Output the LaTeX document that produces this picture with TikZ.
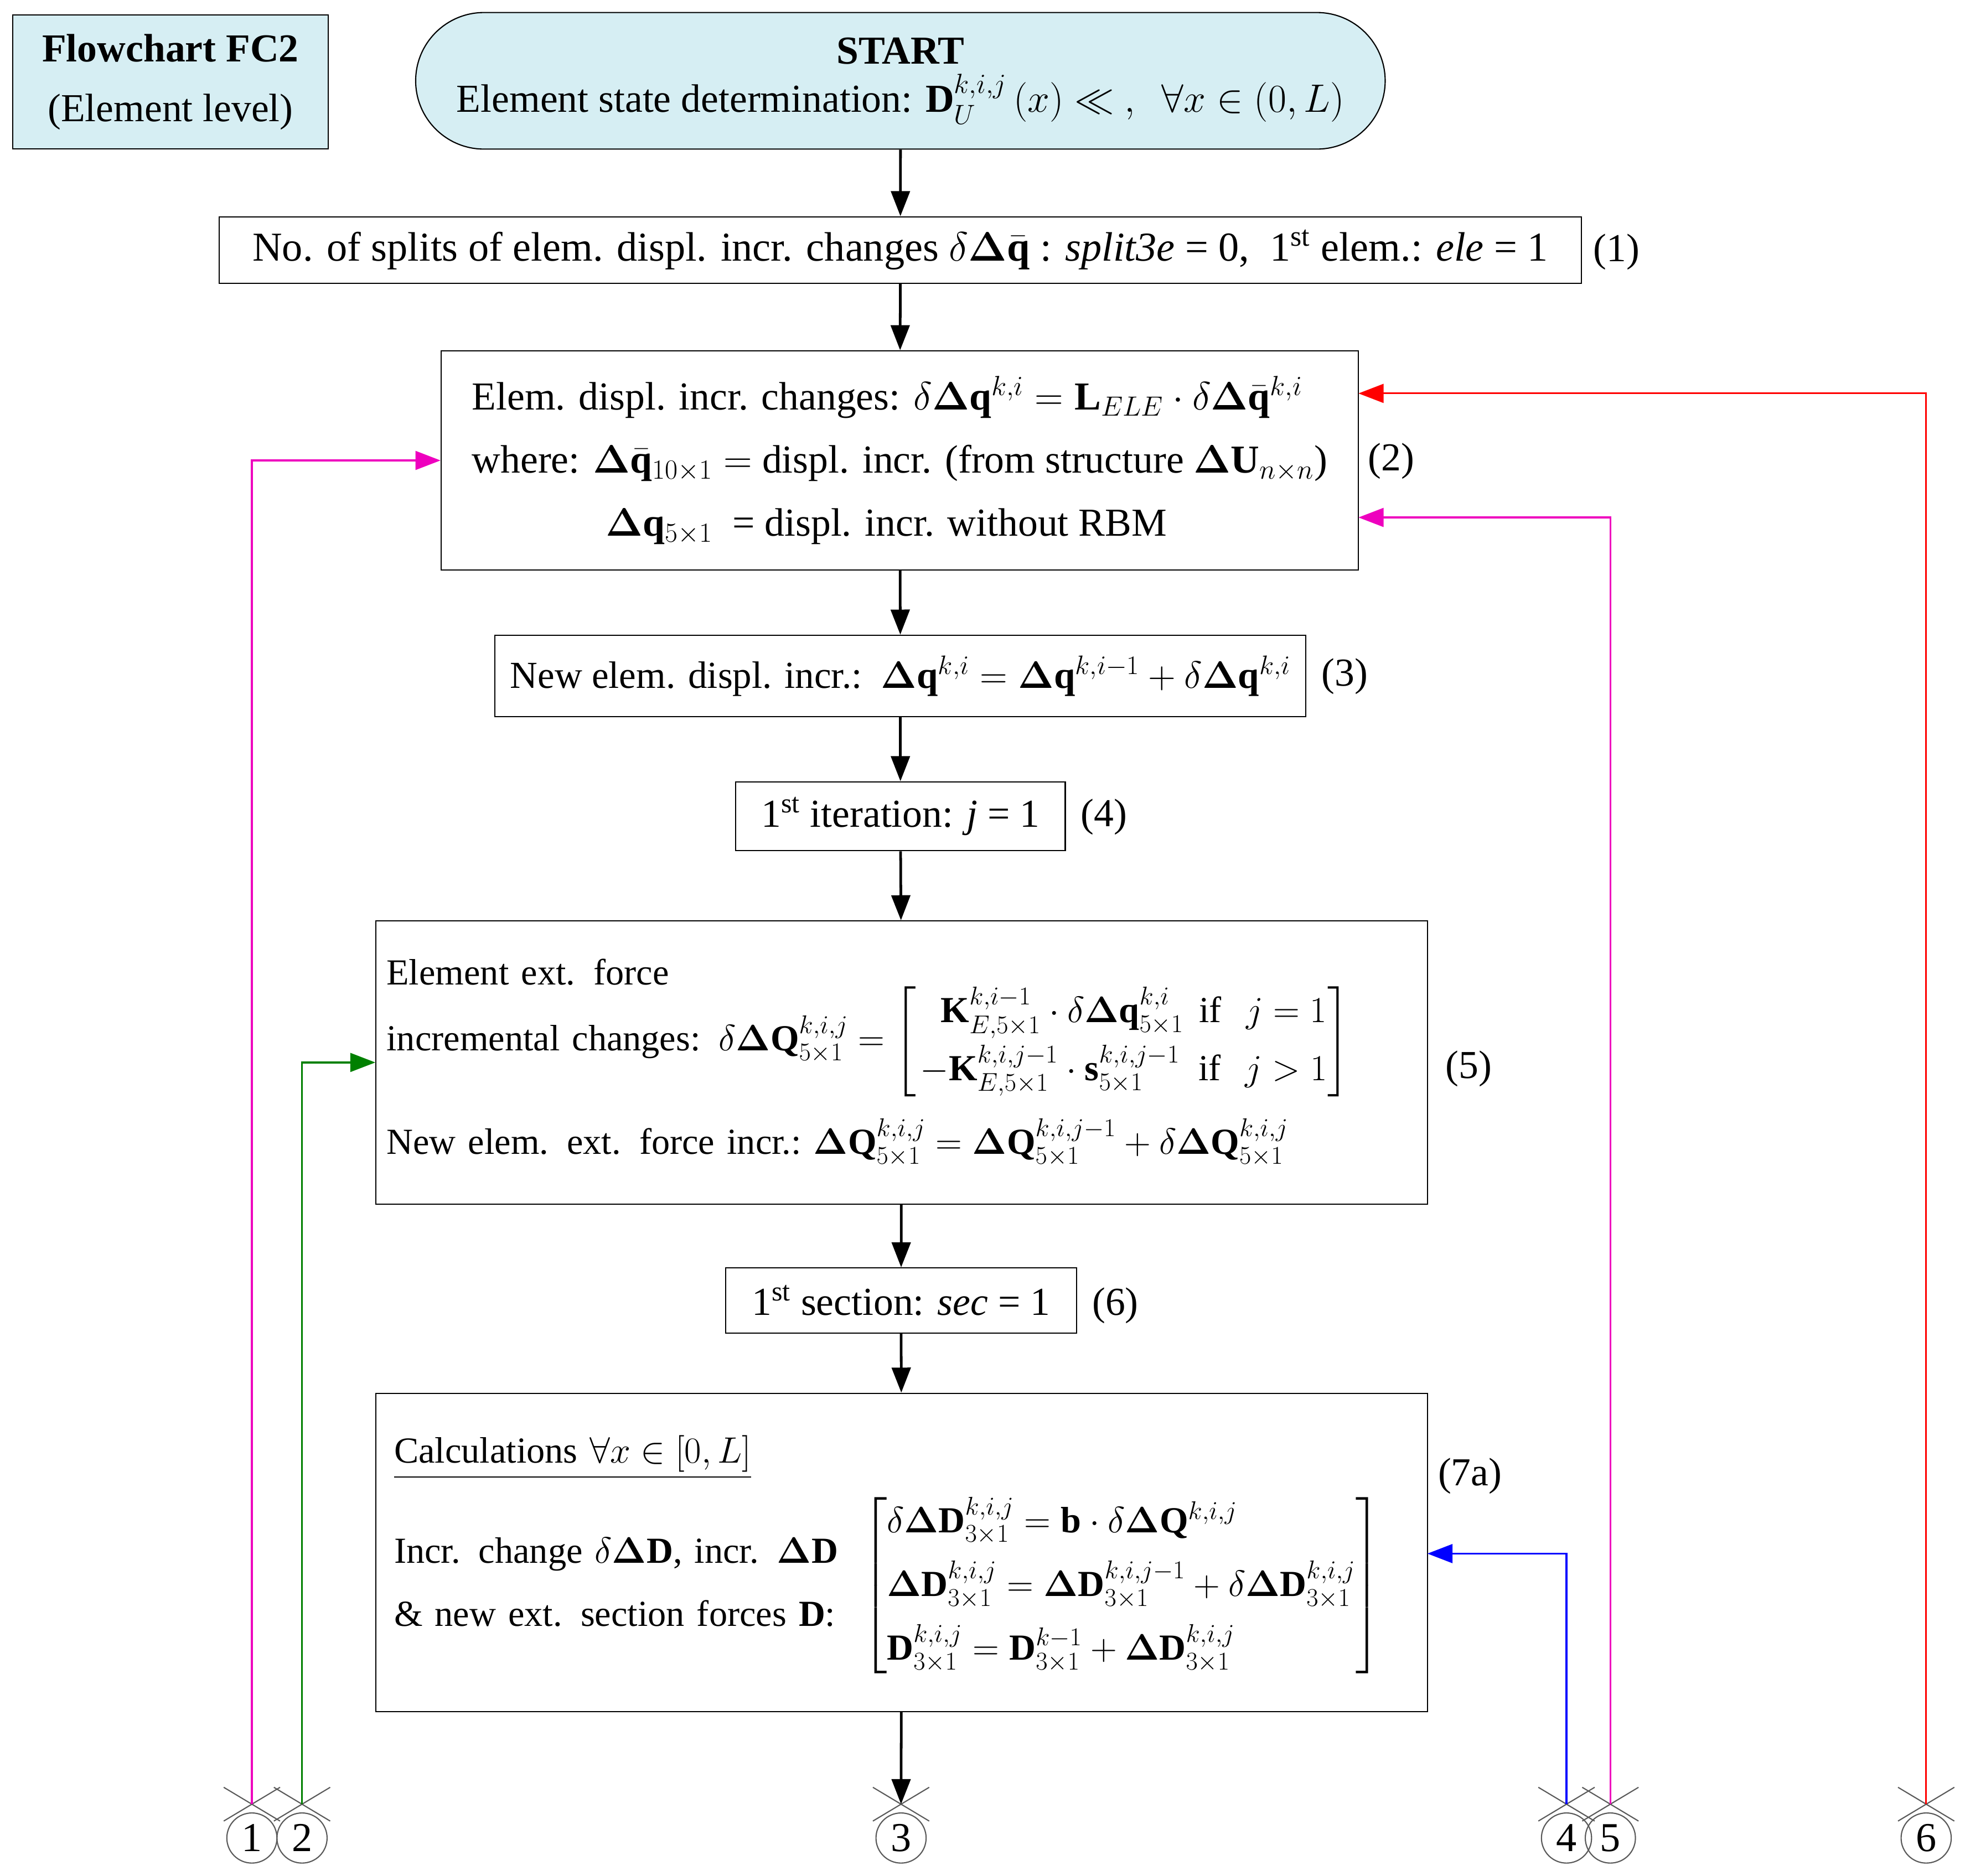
\RequirePackage{fix-cm}
\documentclass[tikz,border=0pt]{standalone}
\usepackage{amsmath}
\usepackage{amssymb}
\usepackage{fontspec}
\setmainfont{Liberation Serif}
\usetikzlibrary{arrows.meta,shapes.misc}
\definecolor{boxcyan}{RGB}{214,238,243}
\definecolor{lnpink}{RGB}{238,0,190}
\definecolor{lngreen}{RGB}{0,128,0}
\newcommand{\pxl}[1]{#1*0.03cm}
\newcommand{\ddq}{\delta\boldsymbol{\Delta}}
\tikzset{
  blk/.style={draw,line width=0.8pt,inner sep=4pt,font=\fontsize{27}{33}\selectfont},
  small/.style={font=\fontsize{25}{31}\selectfont},
  conn/.style={draw=gray!70!black,circle,line width=0.8pt,inner sep=0pt,minimum size=\pxl{40},font=\fontsize{28}{30}\selectfont},
  xmark/.style={draw=gray!70!black,cross out,line width=0.8pt,minimum width=\pxl{44},minimum height=\pxl{26},inner sep=0pt},
  flow/.style={line width=1.8pt,-{Triangle[length=0.6cm,width=0.45cm]}},
  num/.style={font=\fontsize{27}{30}\selectfont}
}
\begin{document}
\begin{tikzpicture}[x=0.03cm,y=-0.03cm]
\useasboundingbox (0,0) rectangle (1568,1497);
% title and start
\node[blk,fill=boxcyan,minimum width=\pxl{252},minimum height=\pxl{107},align=center] (title) at (136,65.5)
  {\textbf{Flowchart FC2}\\[8pt](Element level)};
\node[blk,fill=boxcyan,rounded rectangle,minimum width=\pxl{783},minimum height=\pxl{109},align=center] (start) at (718.5,64.5)
  {\textbf{START}\\Element state determination: $\mathbf{D}_U^{k,i,j}\left(x\right)\ll\ ,\ \ \forall x\in\left(0,L\right)$};
% boxes
\node[blk,font=\fontsize{28}{33}\selectfont,minimum width=\pxl{1087},minimum height=\pxl{53}] (b1) at (718.5,199.5)
  {No. of splits of elem. displ. incr. changes $\ddq\bar{\mathbf{q}}$ : \textit{split3e} = 0,\ \ 1\textsuperscript{st} elem.: \textit{ele} = 1};
\node[blk,minimum width=\pxl{732},minimum height=\pxl{175},align=left] (b2) at (718,367.5)
  {Elem. displ. incr. changes: $\ddq\mathbf{q}^{k,i}=\mathbf{L}_{ELE}\cdot\ddq\bar{\mathbf{q}}^{k,i}$\\[10pt]
   where: $\boldsymbol{\Delta}\bar{\mathbf{q}}_{10\times1}=$ displ. incr. (from structure $\boldsymbol{\Delta}\mathbf{U}_{n\times n}$)\\[10pt]
   \hspace{3.2cm}$\boldsymbol{\Delta}\mathbf{q}_{5\times1}$\ \ = displ. incr. without RBM};
\node[blk,font=\fontsize{26}{33}\selectfont,minimum width=\pxl{647},minimum height=\pxl{65}] (b3) at (718.5,539.5)
  {New elem. displ. incr.:\ \ $\boldsymbol{\Delta}\mathbf{q}^{k,i}=\boldsymbol{\Delta}\mathbf{q}^{k,i-1}+\ddq\mathbf{q}^{k,i}$};
\node[blk,minimum width=\pxl{263},minimum height=\pxl{55}] (b4) at (718.5,651.5)
  {1\textsuperscript{st} iteration: \textit{j} = 1};
\node[blk,small,minimum width=\pxl{839},minimum height=\pxl{226},text width=\pxl{822},align=left] (b5) at (719.5,848)
  {Element ext. force\\
   \mbox{incremental changes: $\ddq\mathbf{Q}^{k,i,j}_{5\times1}=\begin{bmatrix}\ \ \mathbf{K}^{k,i-1}_{E,5\times1}\cdot\ddq\mathbf{q}^{k,i}_{5\times1} & \text{if }\ j=1\\[6pt] -\mathbf{K}^{k,i,j-1}_{E,5\times1}\cdot\mathbf{s}^{k,i,j-1}_{5\times1} & \text{if }\ j>1\end{bmatrix}$}\\[14pt]
   \mbox{New elem. ext. force incr.:\ $\boldsymbol{\Delta}\mathbf{Q}^{k,i,j}_{5\times1}=\boldsymbol{\Delta}\mathbf{Q}^{k,i,j-1}_{5\times1}+\ddq\mathbf{Q}^{k,i,j}_{5\times1}$}};
\node[blk,minimum width=\pxl{280},minimum height=\pxl{52}] (b6) at (719,1038)
  {1\textsuperscript{st} section: \textit{sec} = 1};
\node[blk,small,minimum width=\pxl{839},minimum height=\pxl{254},text width=\pxl{810},align=left] (b7) at (719.5,1239)
  {\begin{tabular}{@{}l@{\ \ }l@{}}
   \multicolumn{2}{@{}l}{\underline{Calculations $\forall x\in\left[0,L\right]$}}\\[14pt]
   \begin{tabular}[c]{@{}l@{}}Incr. change $\ddq\mathbf{D}$,\ incr. $\boldsymbol{\Delta}\mathbf{D}$\\[12pt] \& new ext. section forces $\mathbf{D}$:\end{tabular} &
   $\left[\begin{array}{@{}l@{}}\ddq\mathbf{D}^{k,i,j}_{3\times1}=\mathbf{b}\cdot\ddq\mathbf{Q}^{k,i,j}\\[10pt]
   \boldsymbol{\Delta}\mathbf{D}^{k,i,j}_{3\times1}=\boldsymbol{\Delta}\mathbf{D}^{k,i,j-1}_{3\times1}+\ddq\mathbf{D}^{k,i,j}_{3\times1}\\[10pt]
   \mathbf{D}^{k,i,j}_{3\times1}=\mathbf{D}^{k-1}_{3\times1}+\boldsymbol{\Delta}\mathbf{D}^{k,i,j}_{3\times1}\end{array}\right]$
   \end{tabular}};
% numbers
\node[num] (n1) at (1290,201) {(1)};
\node[num] (n2) at (1110,368) {(2)};
\node[num] (n3) at (1073,540) {(3)};
\node[num] (n4) at (881,652) {(4)};
\node[num] (n5) at (1172,853) {(5)};
\node[num] (n6) at (890,1042) {(6)};
\node[num] (n7) at (1173,1178) {(7a)};
% connectors
\foreach \nm/\xx in {1/201,2/241,3/719,4/1250,5/1285,6/1537}{
  \node[conn] (c\nm) at (\xx,1467) {\nm};
  \node[xmark] (x\nm) at (\xx,1440) {};
}
% main flow
\draw[flow] (start) -- (b1);
\draw[flow] (b1) -- (b2);
\draw[flow] (b2) -- (b3);
\draw[flow] (b3) -- (b4);
\draw[flow] (b4) -- (b5);
\draw[flow] (b5) -- (b6);
\draw[flow] (b6) -- (b7);
\draw[flow] (b7) -- (x3.center);
% loop backs
\draw[flow,line width=1.2pt,lnpink] (x1.center) |- (b2.west);
\draw[flow,line width=1.2pt,lngreen] (x2.center) |- (b5.west);
\draw[flow,line width=1.2pt,blue] (x4.center) |- (1139,1240);
\draw[flow,line width=1.2pt,lnpink] (x5.center) |- (1084,413);
\draw[flow,line width=1.2pt,red] (x6.center) |- (1084,314);
\end{tikzpicture}
\end{document}
